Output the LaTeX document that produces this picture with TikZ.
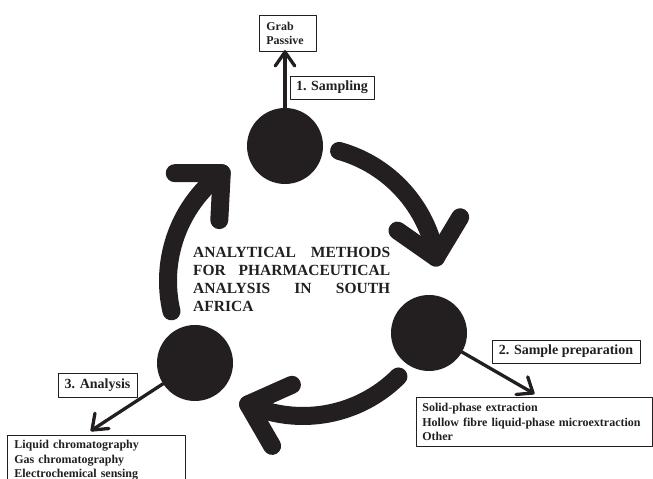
\documentclass[tikz,border=0pt]{standalone}
\usepackage{fontspec}
\setmainfont{Liberation Serif}
\usetikzlibrary{calc}
\definecolor{ink}{HTML}{231F20}
\newcommand{\jline}[1]{\leavevmode\hbox to 197pt{#1}}
\begin{document}
\begin{tikzpicture}[x=1pt,y=1pt,line join=round]
\useasboundingbox (0,0) rectangle (653,479);
\clip (0,0) rectangle (653,479);
\tikzset{
 dot/.style={circle, fill=ink, minimum size=76pt, inner sep=0pt},
 bigarc/.style={draw=ink, line width=18pt, line cap=round, line join=round},
 thinline/.style={draw=ink, line width=3.3pt, line cap=round, line join=round},
 lbl/.style={draw=ink, line width=0.8pt, font=\bfseries\fontsize{14}{16}\selectfont, text=ink, inner sep=0pt},
 lst/.style={draw=ink, line width=0.8pt, font=\bfseries\fontsize{12}{14.5}\selectfont, text=ink, align=left, anchor=north west},
}
\coordinate (C) at (303,198);
% circles
\node[dot] (s1) at (285,333) {};
\node[dot] (s2) at (429,146) {};
\node[dot] (s3) at (195,116) {};
% big arcs
\coordinate (a1s) at ($(C)+(74.5:135)$);
\coordinate (a1t) at ($(C)+(10:135)$);
\coordinate (a2s) at ($(C)+(-45:135)$);
\coordinate (a2t) at ($(C)+(-114:135)$);
\coordinate (a3s) at ($(C)+(193:135)$);
\coordinate (a3t) at ($(C)+(127:135)$);
\draw[bigarc] (a1s) arc[start angle=74.5, end angle=10, radius=135];
\draw[bigarc] ($(a1t)+(145:47)$) -- (a1t) -- ($(a1t)+(59:47)$);
\draw[bigarc] (a2s) arc[start angle=-45, end angle=-114, radius=135];
\draw[bigarc] ($(a2t)+(24:48)$) -- (a2t) -- ($(a2t)+(-60:48)$);
\draw[bigarc] (a3s) arc[start angle=193, end angle=127, radius=135];
\draw[bigarc] ($(a3t)+(180:47)$) -- (a3t) -- ($(a3t)+(267:47)$);
% boxes
\node[lst, text width=43pt, inner xsep=7pt, inner ysep=6.5pt] (grab) at (259,464) {Grab\\Passive};
\node[lbl, minimum width=84pt, minimum height=23pt] (l1) at (332,391.5) {1. Sampling};
\node[lbl, minimum width=148pt, minimum height=23pt] (l2) at (566,127.5) {2. Sample preparation};
\node[lbl, minimum width=79pt, minimum height=24pt] (l3) at (97.5,93.5) {3. Analysis};
\node[lst, text width=223.5pt, inner xsep=6pt, inner ysep=6pt] (prep) at (416,82) {Solid-phase extraction\\Hollow fibre liquid-phase microextraction\\Other};
\node[lst, text width=164pt, inner xsep=7pt, inner ysep=5pt] (anal) at (7,44) {Liquid chromatography\\Gas chromatography\\Electrochemical sensing\\[2pt]\strut};
% thin arrows
\coordinate (t1) at (285,427);
\coordinate (t2) at (533,86);
\coordinate (t3) at (92,49);
\draw[thinline] (s1) -- (t1);
\draw[thinline] ($(t1)+(-125:17)$) -- (t1) -- ($(t1)+(-55:17)$);
\draw[thinline] (s2) -- (t2);
\draw[thinline] ($(t2)+(185:17)$) -- (t2) -- ($(t2)+(108:17)$);
\draw[thinline] (s3) -- (t3);
\draw[thinline] ($(t3)+(5:17)$) -- (t3) -- ($(t3)+(80:17)$);
% title
\node[anchor=north west, inner sep=0pt, text width=197pt, align=left, text=ink,
      font=\bfseries\fontsize{15.5}{18}\selectfont] (title) at (193,231.5)
 {\jline{ANALYTICAL\hfill METHODS}\\
  \jline{FOR\hfill PHARMACEUTICAL}\\
  \jline{ANALYSIS\hfill IN\hfill SOUTH}\\
  AFRICA};
\end{tikzpicture}
\end{document}
